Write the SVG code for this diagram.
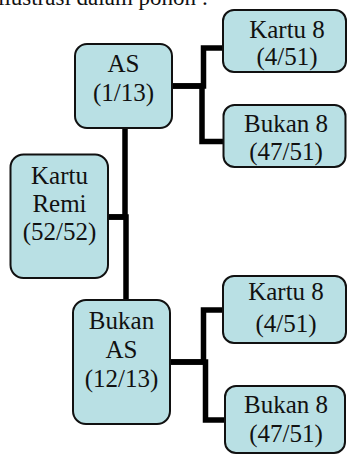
<svg xmlns="http://www.w3.org/2000/svg" width="347" height="454" viewBox="0 0 347 454">
  <style>
    .box { fill: #b9e0e4; stroke: #111; stroke-width: 2; }
    .lbl { font-family: "Liberation Serif", "Times New Roman", serif; font-size: 25px; fill: #111; text-anchor: middle; }
    .cap { font-family: "Liberation Serif", "Times New Roman", serif; font-size: 23px; fill: #111; }
    .wire { fill: none; stroke: #000; stroke-width: 5.5; stroke-linejoin: miter; }
  </style>
  <rect width="347" height="454" fill="#fff"/>

  <!-- heading line, partly cut at the top edge -->
  <text class="cap" x="-2" y="5">ilustrasi dalam pohon :</text>

  <!-- elbow connectors -->
  <g id="connectors">
    <path class="wire" d="M108,217 H125 V128"/>
    <path class="wire" d="M108,217 H126 V300"/>
    <path class="wire" d="M172,86 H203.5 V48 H223"/>
    <path class="wire" d="M172,86 H202 V141.5 H224"/>
    <path class="wire" d="M170,362 H203.5 V310 H223"/>
    <path class="wire" d="M170,362 H205.5 V420 H225"/>
  </g>

  <g id="kartu-remi">
    <rect class="box" x="10.5" y="154.5" width="97.5" height="123.5" rx="13"/>
    <text class="lbl" x="59.5" y="184">Kartu</text>
    <text class="lbl" x="59.5" y="212">Remi</text>
    <text class="lbl" x="59.5" y="240">(52/52)</text>
  </g>

  <g id="as">
    <rect class="box" x="75" y="44" width="97" height="84" rx="12"/>
    <text class="lbl" x="123.5" y="72">AS</text>
    <text class="lbl" x="123.5" y="100.5">(1/13)</text>
  </g>

  <g id="bukan-as">
    <rect class="box" x="73" y="300" width="97" height="124" rx="13"/>
    <text class="lbl" x="121.5" y="328.5">Bukan</text>
    <text class="lbl" x="121.5" y="357.5">AS</text>
    <text class="lbl" x="121.5" y="387">(12/13)</text>
  </g>

  <g id="as-kartu8">
    <rect class="box" x="223" y="10" width="123" height="62" rx="11"/>
    <text class="lbl" x="287" y="37.5">Kartu 8</text>
    <text class="lbl" x="287" y="65">(4/51)</text>
  </g>

  <g id="as-bukan8">
    <rect class="box" x="223.5" y="105" width="122" height="62" rx="11"/>
    <text class="lbl" x="286" y="131.5">Bukan 8</text>
    <text class="lbl" x="286" y="159.5">(47/51)</text>
  </g>

  <g id="bukan-as-kartu8">
    <rect class="box" x="223" y="276" width="123" height="67" rx="11"/>
    <text class="lbl" x="286" y="300">Kartu 8</text>
    <text class="lbl" x="286" y="331.5">(4/51)</text>
  </g>

  <g id="bukan-as-bukan8">
    <rect class="box" x="225" y="386" width="120" height="67" rx="11"/>
    <text class="lbl" x="286" y="413">Bukan 8</text>
    <text class="lbl" x="286" y="441.5">(47/51)</text>
  </g>
</svg>
